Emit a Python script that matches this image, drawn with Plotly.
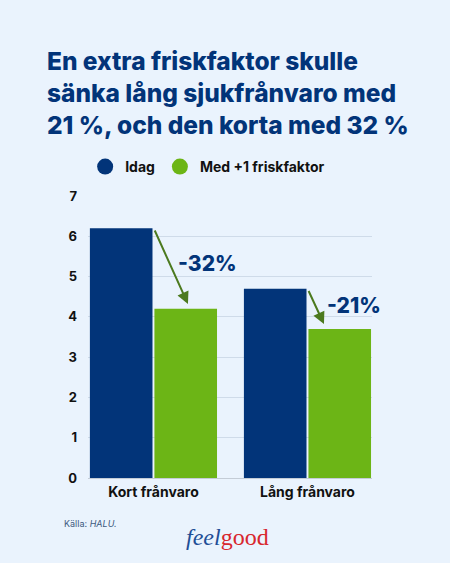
import plotly.graph_objects as go

categories = ["Kort frånvaro", "Lång frånvaro"]
idag = [6.2, 4.7]
med_friskfaktor = [4.2, 3.7]
series_names = ["Idag", "Med +1 friskfaktor"]
change_labels = ["-32%", "-21%"]
y_ticks = [0, 1, 2, 3, 4, 5, 6, 7]

NAVY = "#023479"
GREEN = "#6cb516"
ARROW = "#4c7a1f"
BG = "#eaf3fd"
FONT = "Inter"

fig = go.Figure()
fig.add_trace(go.Bar(x=categories, y=idag, name=series_names[0], marker_color=NAVY,
                     marker_line_width=0, showlegend=False))
fig.add_trace(go.Bar(x=categories, y=med_friskfaktor, name=series_names[1], marker_color=GREEN,
                     marker_line_width=0, showlegend=False))
for name, col in zip(series_names, [NAVY, GREEN]):
    fig.add_trace(go.Scatter(x=[None], y=[None], mode="markers", name=name,
                             marker=dict(symbol="circle", size=17, color=col)))

arrow_tail_dx = [0.004, 0.003]
arrow_head_dx = [0.224, 0.107]
label_dx = [0.35, 0.30]
for i, (a, b, lab) in enumerate(zip(idag, med_friskfaktor, change_labels)):
    fig.add_annotation(x=i + arrow_head_dx[i], y=b + 0.12, ax=i + arrow_tail_dx[i], ay=a - 0.02,
                       xref="x", yref="y", axref="x", ayref="y", text="", showarrow=True,
                       arrowhead=2, arrowsize=1.2, arrowwidth=2, arrowcolor=ARROW)
    fig.add_annotation(x=i + label_dx[i], y=(a + b) / 2 + (0.13 if i == 0 else 0.07), xref="x", yref="y",
                       text=lab, showarrow=False, xanchor="center",
                       font=dict(family=FONT, size=21, color=NAVY, weight=800))

fig.add_annotation(x=-0.151, y=1.54, xref="paper", yref="paper", xanchor="left", yanchor="top",
                   align="left", showarrow=False,
                   text="En extra friskfaktor skulle<br>sänka lång sjukfrånvaro med<br>21 %, och den korta med 32 %",
                   font=dict(family=FONT, size=24.5, color=NAVY, weight=800))
fig.add_annotation(x=-0.09, y=-0.16, xref="paper", yref="paper", xanchor="left", yanchor="middle",
                   showarrow=False, text="Källa: <i>HALU.</i>",
                   font=dict(family=FONT, size=9, color="#3d5a80"))
fig.add_annotation(x=0.49, y=-0.21, xref="paper", yref="paper", xanchor="center", yanchor="middle",
                   showarrow=False,
                   text="<i><span style='color:#1f4e96'>feel</span></i><span style='color:#d8262e'>good</span>",
                   font=dict(family="Liberation Serif", size=24))

fig.update_layout(
    width=450, height=563,
    margin=dict(l=88, r=78, t=196, b=85),
    paper_bgcolor=BG, plot_bgcolor=BG,
    barmode="group", bargap=0.162, bargroupgap=0.03,
    font=dict(family=FONT, color="#111111"),
    legend=dict(orientation="h", x=-0.01, y=1.103, xanchor="left", yanchor="middle",
                font=dict(family=FONT, size=14, color="#111111", weight=700), bgcolor="rgba(0,0,0,0)",
                itemwidth=30, traceorder="normal"),
    showlegend=True,
)
fig.update_xaxes(range=[-0.425, 1.419], showgrid=False, showline=False, zeroline=False,
                 ticks="", tickfont=dict(family=FONT, size=14, color="#111111", weight=700),
                 ticklabelstandoff=4)
fig.update_yaxes(range=[0, 7.0], tickvals=y_ticks, showgrid=True, gridcolor="#cfdbe9", gridwidth=1,
                 zeroline=True, zerolinecolor="#c4ccd6", zerolinewidth=1, showline=False,
                 tickfont=dict(family=FONT, size=13, color="#111111", weight=700),
                 ticklabelstandoff=10)

fig.write_html("out.html", config={"displayModeBar": False},
               post_script="document.body.style.margin='0';document.body.style.overflow='hidden';")
